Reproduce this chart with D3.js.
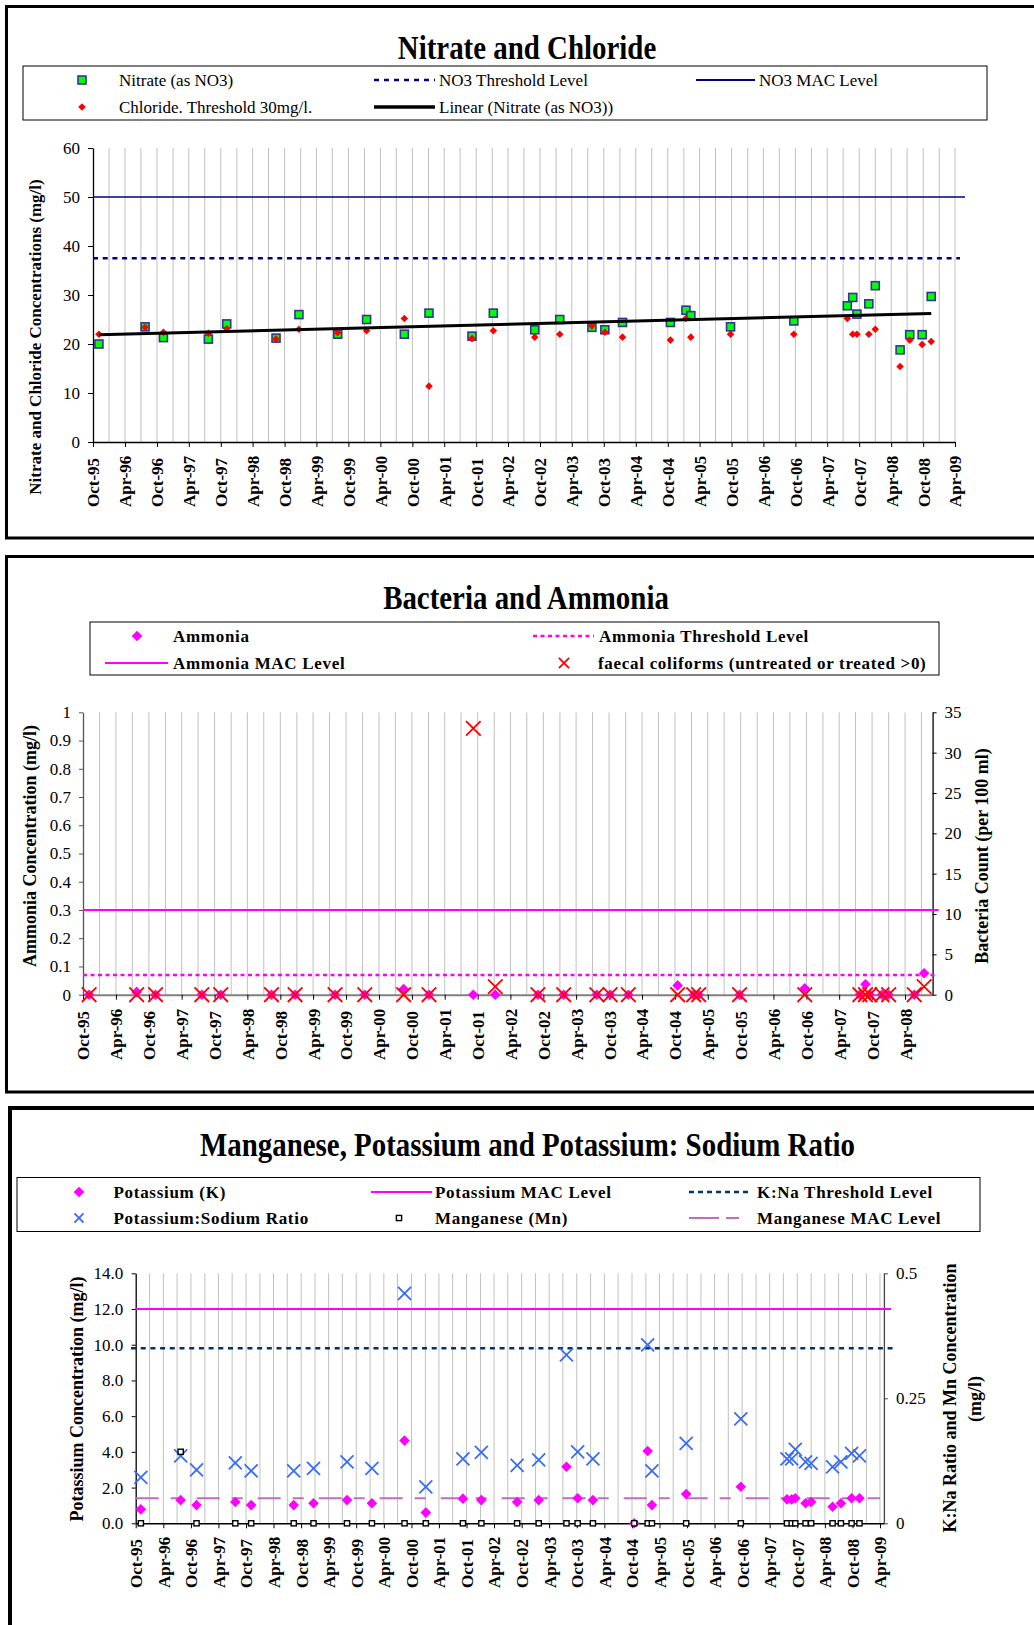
<!DOCTYPE html>
<html>
<head>
<meta charset="utf-8">
<script src="https://cdnjs.cloudflare.com/ajax/libs/d3/7.8.5/d3.min.js"></script>
<style>
  body { margin: 0; background: #fff; }
  svg { display: block; }
  text { font-family: "Liberation Serif", "Times New Roman", serif; }
</style>
</head>
<body>
<div id="chart-area"></div>
<script>
var parseDate = d3.timeParse("%Y-%m-%d");
var formatTick = d3.timeFormat("%b-%y");
var serif = "'Liberation Serif', 'Times New Roman', serif";

// sampling dates shared by the three panels
var sampleDates = ["1995-11-04", "1996-07-25", "1996-11-07", "1997-07-22", "1997-11-04",
                   "1998-08-13", "1998-12-22", "1999-08-01", "2000-01-13", "2000-08-16",
                   "2001-01-04", "2001-09-07", "2002-01-07", "2002-09-01", "2003-01-22",
                   "2003-07-25", "2003-10-07", "2004-01-16", "2004-10-16", "2005-01-13",
                   "2005-02-10", "2005-09-25", "2006-09-22", "2007-07-25", "2007-08-25",
                   "2007-09-18", "2007-11-25", "2008-01-01", "2008-05-22", "2008-07-16",
                   "2008-09-25", "2008-11-16"];
var dates = sampleDates.map(parseDate);

// Nitrate and Chloride (mg/l)
var nitrate  = [20.0, 23.5, 21.3, 21.0, 24.1, 21.2, 26.0, 22.0, 25.0, 22.0, 26.3, 21.6, 26.3, 22.9, 25.0, 23.4,
                22.9, 24.4, 24.4, 26.9, 25.8, 23.5, 24.7, 27.8, 29.5, 26.1, 28.2, 31.9, 18.8, 21.9, 21.9, 29.7];
var chloride = [22.0, 23.4, 22.4, 22.2, 23.1, 21.0, 23.0, 22.3, 22.7, 25.2, 11.4, 21.1, 22.7, 21.4, 22.0, 23.7,
                22.4, 21.4, 20.8, 25.2, 21.4, 22.0, 22.0, 25.2, 22.0, 22.0, 22.0, 23.0, 15.4, 20.8, 19.9, 20.5];
var no3Threshold = 37.5;
var no3Mac = 50;
var nitrateTicks = [0, 10, 20, 30, 40, 50, 60];

// Bacteria and Ammonia (first 30 sampling dates)
var ammonia = [0, 0.01, 0, 0, 0, 0, 0, 0, 0, 0.02, 0, 0, 0, 0, 0, 0, 0, 0, 0.033, 0,
               0, 0, 0.023, 0, 0.037, 0, 0, 0, 0, 0.076];
var faecalColiforms = [0, 0, 0, 0, 0, 0, 0, 0, 0, 0, 0, 33, 1, 0, 0, 0, 0, 0, 0, 0,
                       0, 0, 0, 0, 0, 0, 0, 0, 0, 1];
var ammoniaThreshold = 0.07;
var ammoniaMac = 0.3;
var ammoniaTicks = [0, 0.1, 0.2, 0.3, 0.4, 0.5, 0.6, 0.7, 0.8, 0.9, 1];
var bacteriaTicks = [0, 5, 10, 15, 20, 25, 30, 35];

// Manganese, Potassium and K:Na ratio
var potassium = [0.78, 1.3, 1.02, 1.19, 1.02, 1.02, 1.12, 1.3, 1.12, 4.63, 0.6, 1.38, 1.3, 1.19, 1.3, 3.17,
                 1.4, 1.3, 0, 4.05, 1.02, 1.64, 2.05, 1.34, 1.34, 1.4, 1.12, 1.19, 0.93, 1.12, 1.4, 1.4];
var kNaRatio = [0.092, 0.135, 0.107, 0.121, 0.105, 0.105, 0.110, 0.123, 0.110, 0.460, 0.073, 0.129, 0.142, 0.116, 0.127, 0.337,
                0.143, 0.129, null, 0.357, 0.105, 0.160, 0.209, 0.129, 0.129, 0.148, 0.123, 0.120, 0.113, 0.123, 0.140, 0.135];
var manganese = [0, 0.143, 0, 0, 0, 0, 0, 0, 0, 0, 0, 0, 0, 0, 0, 0,
                 0, 0, 0, 0, 0, 0, 0, 0, 0, 0, 0, 0, 0, 0, 0, 0];
var potassiumMac = 12;
var kNaThreshold = 0.35;
var manganeseMac = 0.05;
var potassiumTicks = [0, 2, 4, 6, 8, 10, 12, 14];
var ratioTicks = [0, 0.25, 0.5];

var svg = d3.select("#chart-area")
            .append("svg")
            .attr("width", 1034)
            .attr("height", 1625);

svg.append("rect").attr("width", 1034).attr("height", 1625).attr("fill", "#fff");

// ---------- helpers ----------
function frame(x, y, w, h, sw) {
    svg.append("rect")
       .attr("x", x).attr("y", y).attr("width", w).attr("height", h)
       .attr("fill", "none").attr("stroke", "#000").attr("stroke-width", sw);
}

function title(text, cx, y) {
    svg.append("text")
       .attr("transform", "translate(" + cx + "," + y + ") scale(0.85,1)")
       .attr("text-anchor", "middle")
       .attr("font-size", "34px")
       .attr("font-weight", "bold")
       .text(text);
}

function diamondPath(r) {
    return "M0," + (-r) + "L" + r + ",0L0," + r + "L" + (-r) + ",0Z";
}

function crossPath(r) {
    return "M" + (-r) + "," + (-r) + "L" + r + "," + r + "M" + (-r) + "," + r + "L" + r + "," + (-r);
}

function marker(g, kind, cx, cy, k) {
    k = k || 1;
    var t = "translate(" + cx + "," + cy + ")";
    if (kind === "nitrate") {
        g.append("rect").attr("x", cx - 4 * k).attr("y", cy - 4 * k)
         .attr("width", 8 * k).attr("height", 8 * k)
         .attr("fill", "#00ff00").attr("stroke", "#333399").attr("stroke-width", 1.6);
    } else if (kind === "manganese") {
        g.append("rect").attr("x", cx - 2.6).attr("y", cy - 2.6).attr("width", 5.2).attr("height", 5.2)
         .attr("fill", "#fff").attr("stroke", "#000").attr("stroke-width", 1.4);
    } else if (kind === "chloride") {
        g.append("path").attr("transform", t).attr("d", diamondPath(3.8 * k)).attr("fill", "#ff0000");
    } else if (kind === "ammonia" || kind === "potassium") {
        g.append("path").attr("transform", t).attr("d", diamondPath(5.3 * k)).attr("fill", "#ff00ff");
    } else if (kind === "coliform") {
        g.append("path").attr("transform", t).attr("d", crossPath(7.3 * k))
         .attr("fill", "none").attr("stroke", "#ff0000").attr("stroke-width", 1.8);
    } else if (kind === "ratio") {
        g.append("path").attr("transform", t).attr("d", crossPath(6.5 * k))
         .attr("fill", "none").attr("stroke", "#3a6cf4").attr("stroke-width", 1.8);
    }
}

function series(g, x, y, values, kind) {
    values.forEach(function(v, i) {
        if (v !== null) marker(g, kind, x(dates[i]), y(v));
    });
}

function refLine(g, xa, xb, yPos, color, width, dash) {
    g.append("line")
     .attr("x1", xa).attr("x2", xb).attr("y1", yPos).attr("y2", yPos)
     .attr("stroke", color).attr("stroke-width", width)
     .attr("stroke-dasharray", dash);
}

function legendBox(x, y, w, h) {
    svg.append("rect").attr("x", x).attr("y", y).attr("width", w).attr("height", h)
       .attr("fill", "#fff").attr("stroke", "#000").attr("stroke-width", 1);
}

function legendText(x, y, label, bold) {
    svg.append("text")
       .attr("x", x).attr("y", y + 5.5)
       .attr("font-size", "17px")
       .attr("font-weight", bold ? "bold" : "normal")
       .attr("letter-spacing", bold ? "0.7px" : null)
       .text(label);
}

function legendLine(xa, xb, y, color, width, dash) {
    refLine(svg, xa, xb, y, color, width, dash);
}

// quarterly grid + date axis, labels bottom-aligned
function dateAxis(g, x, axisY, top, labelBottom, color, width) {
    var start = x.domain()[0];
    var stop = d3.timeDay.offset(x.domain()[1], 1);
    var quarters = d3.timeMonth.every(3).range(d3.timeDay.offset(start, 1), stop);
    g.append("g").selectAll("line").data(quarters).join("line")
     .attr("x1", d => x(d)).attr("x2", d => x(d))
     .attr("y1", top).attr("y2", axisY)
     .attr("stroke", "#c0c0c0").attr("stroke-width", 1);

    var ticks = d3.timeMonth.every(3).range(start, stop).filter(d => d.getMonth() % 6 === 3);
    var axis = g.append("g")
                .attr("transform", "translate(0," + axisY + ")")
                .call(d3.axisBottom(x).tickValues(ticks).tickFormat(formatTick).tickSize(5).tickSizeOuter(0));
    axis.attr("font-family", serif).attr("font-size", 17).attr("font-weight", "bold");
    axis.select(".domain").attr("stroke", color).attr("stroke-width", width);
    axis.selectAll(".tick line").attr("stroke", "#000");
    axis.selectAll(".tick text")
        .attr("y", null)
        .attr("dy", "0.35em")
        .attr("text-anchor", "start")
        .attr("fill", "#000")
        .attr("transform", "translate(0," + (labelBottom - axisY) + ") rotate(-90)");
}

function valueAxis(g, axis, xPos, color) {
    var a = g.append("g")
             .attr("transform", "translate(" + xPos + ",0)")
             .call(axis.tickSizeOuter(0));
    a.attr("font-family", serif).attr("font-size", 17);
    a.select(".domain").attr("stroke", color).attr("stroke-width", 1.3);
    a.selectAll(".tick line").attr("stroke", color);
    a.selectAll(".tick text").attr("fill", "#000");
}

function axisTitle(g, text, cx, cy, size) {
    g.append("text")
     .attr("transform", "translate(" + cx + "," + cy + ") rotate(-90)")
     .attr("text-anchor", "middle")
     .attr("dy", "0.35em")
     .attr("font-size", size + "px")
     .attr("font-weight", "bold")
     .text(text);
}

// ---------- panel 1: Nitrate and Chloride ----------
frame(6.5, 6.5, 1100, 531.5, 3);
title("Nitrate and Chloride", 527, 59);

legendBox(23, 66, 964, 54);
marker(svg, "nitrate", 82, 80);
legendText(119, 80, "Nitrate (as NO3)", false);
legendLine(374, 435, 80, "#000080", 2.5, "5,5");
legendText(439, 80, "NO3 Threshold Level", false);
legendLine(696, 755, 80, "#000080", 2, null);
legendText(759, 80, "NO3 MAC Level", false);
marker(svg, "chloride", 82, 107);
legendText(119, 107, "Chloride. Threshold 30mg/l.", false);
legendLine(374, 435, 107, "#000", 3.5, null);
legendText(439, 107, "Linear (Nitrate (as NO3))", false);

var g1 = svg.append("g");
var x1 = d3.scaleTime().domain([parseDate("1995-10-01"), parseDate("2009-04-01")]).range([93, 955]);
var y1 = d3.scaleLinear().domain([0, 60]).range([442, 148]);

dateAxis(g1, x1, 442, 148, 507, "#000", 1.5);
valueAxis(g1, d3.axisLeft(y1).tickValues(nitrateTicks).tickSize(5).tickPadding(8).tickFormat(d => d), 93, "#000");
refLine(g1, 93, 965, y1(no3Mac), "#000080", 1.6, null);
refLine(g1, 93, 960, y1(no3Threshold), "#000080", 2.5, "5,4.7");

series(g1, x1, y1, nitrate, "nitrate");
series(g1, x1, y1, chloride, "chloride");

// least squares trend of nitrate against date
var ts = dates.map(d => +d);
var meanT = d3.mean(ts), meanN = d3.mean(nitrate);
var slope = d3.sum(ts, (t, i) => (t - meanT) * (nitrate[i] - meanN)) / d3.sum(ts, t => (t - meanT) * (t - meanT));
var trend = [dates[0], dates[dates.length - 1]];
g1.append("line")
  .attr("x1", x1(trend[0])).attr("y1", y1(meanN + slope * (+trend[0] - meanT)))
  .attr("x2", x1(trend[1])).attr("y2", y1(meanN + slope * (+trend[1] - meanT)))
  .attr("stroke", "#000").attr("stroke-width", 3);

axisTitle(g1, "Nitrate and Chloride Concentrations (mg/l)", 35, 337, 17);

// ---------- panel 2: Bacteria and Ammonia ----------
frame(6.5, 556.5, 1100, 535.5, 3);
title("Bacteria and Ammonia", 526, 609);

legendBox(90, 622, 849, 53);
marker(svg, "ammonia", 137, 636);
legendText(173, 636, "Ammonia", true);
legendLine(533, 594, 636, "#ff00ff", 2.5, "4,3.5");
legendText(599, 636, "Ammonia Threshold Level", true);
legendLine(105, 168, 663, "#ff00ff", 2, null);
legendText(173, 663, "Ammonia MAC Level", true);
marker(svg, "coliform", 564, 663, 0.7);
legendText(598, 663, "faecal coliforms (untreated or treated >0)", true);

var g2 = svg.append("g");
var x2 = d3.scaleTime().domain([parseDate("1995-10-01"), parseDate("2008-09-01")]).range([83, 932.6]);
var y2 = d3.scaleLinear().domain([0, 1]).range([994.7, 712.3]);
var yB = d3.scaleLinear().domain([0, 35]).range([994.7, 712.3]);

dateAxis(g2, x2, 994.7, 712.3, 1060, "#808080", 2);
valueAxis(g2, d3.axisLeft(y2).tickValues(ammoniaTicks).tickSize(4).tickPadding(8).tickFormat(d => String(d)), 83, "#555");
valueAxis(g2, d3.axisRight(yB).tickValues(bacteriaTicks).tickSize(4).tickPadding(8).tickFormat(d => d), 932.6, "#000");
refLine(g2, 83, 938.7, y2(ammoniaMac), "#ff00ff", 2, null);
refLine(g2, 83, 938, y2(ammoniaThreshold), "#ff00ff", 2.5, "4,3.5");

series(g2, x2, y2, ammonia, "ammonia");
series(g2, x2, yB, faecalColiforms, "coliform");

axisTitle(g2, "Ammonia Concentration (mg/l)", 30, 846, 18);
axisTitle(g2, "Bacteria Count (per 100 ml)", 982, 856, 18);

// ---------- panel 3: Manganese, Potassium and K:Na ----------
frame(10, 1108, 1100, 600, 4);
title("Manganese, Potassium and Potassium: Sodium Ratio", 527.5, 1156);

legendBox(17, 1177.5, 963, 54);
marker(svg, "potassium", 79, 1192);
legendText(113.5, 1192, "Potassium (K)", true);
legendLine(371, 432, 1192, "#ff00ff", 2, null);
legendText(435, 1192, "Potassium MAC Level", true);
legendLine(689, 749, 1192, "#003366", 2.5, "5,4");
legendText(757, 1192, "K:Na Threshold Level", true);
marker(svg, "ratio", 79, 1218, 0.7);
legendText(113.5, 1218, "Potassium:Sodium Ratio", true);
marker(svg, "manganese", 399, 1218);
legendText(435, 1218, "Manganese (Mn)", true);
legendLine(689, 739, 1218, "#c06cc0", 2, "30,7,13");
legendText(757, 1218, "Manganese MAC Level", true);

var g3 = svg.append("g");
var x3 = d3.scaleTime().domain([parseDate("1995-10-01"), parseDate("2009-04-27")]).range([135.7, 883.9]);
var y3 = d3.scaleLinear().domain([0, 14]).range([1523.3, 1273.3]);
var yR = d3.scaleLinear().domain([0, 0.5]).range([1523.3, 1273.3]);

dateAxis(g3, x3, 1523.3, 1273.3, 1588, "#000", 1.5);
valueAxis(g3, d3.axisLeft(y3).tickValues(potassiumTicks).tickSize(4).tickPadding(8.5).tickFormat(d3.format(".1f")), 135.7, "#000");
valueAxis(g3, d3.axisRight(yR).tickValues(ratioTicks).tickSize(4).tickPadding(8).tickFormat(d => String(d)), 883.9, "#444");
refLine(g3, 135.7, 891, y3(potassiumMac), "#ff00ff", 2, null);
refLine(g3, 131, 893, yR(kNaThreshold), "#003366", 2.5, "5,4.7");
refLine(g3, 135.7, 880, yR(manganeseMac), "#c06cc0", 2, "23,12,11,15");

series(g3, x3, y3, potassium, "potassium");
series(g3, x3, yR, kNaRatio, "ratio");
series(g3, x3, yR, manganese, "manganese");

axisTitle(g3, "Potassium Concentration (mg/l)", 76.7, 1399, 18);
axisTitle(g3, "K:Na Ratio and Mn Concentration", 949.6, 1398, 18);
axisTitle(g3, "(mg/l)", 975, 1399, 18);
</script>
</body>
</html>
